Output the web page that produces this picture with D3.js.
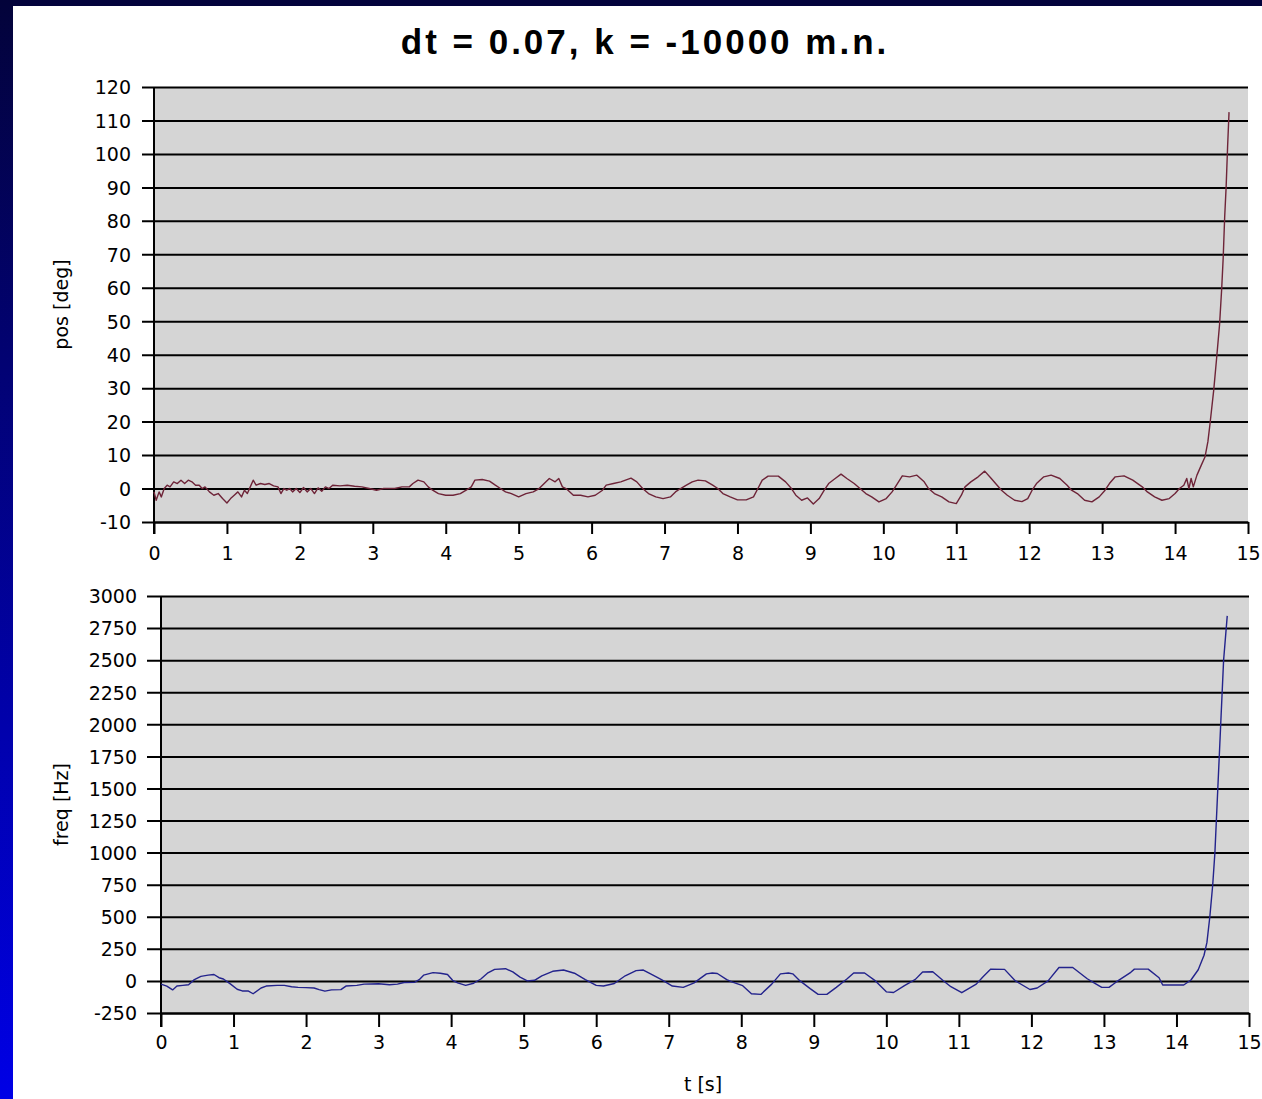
<!DOCTYPE html>
<html>
<head>
<meta charset="utf-8">
<script src="https://cdn.jsdelivr.net/npm/d3@7"></script>
<style>
  html, body { margin: 0; padding: 0; background: #fff; }
  svg { display: block; }
  .tick-label { font-family: "DejaVu Sans", sans-serif; font-size: 19px; fill: #000; }
  .axis-title { font-family: "DejaVu Sans", sans-serif; font-size: 19px; fill: #000; }
</style>
</head>
<body>
<script>
// Simulation output: pendulum position and motor frequency, dt = 0.07
const titleText = "dt = 0.07, k = -10000 m.n.";

const timeTicks = [0,1,2,3,4,5,6,7,8,9,10,11,12,13,14,15];
const posTicks = [-10,0,10,20,30,40,50,60,70,80,90,100,110,120];
const freqTicks = [-250,0,250,500,750,1000,1250,1500,1750,2000,2250,2500,2750,3000];

// position [deg] vs time [s]
const posT = [0,0.03,0.07,0.1,0.14,0.18,0.22,0.27,0.32,0.37,0.42,0.47,0.52,0.57,0.62,0.66,0.7,0.76,0.82,0.88,0.94,1.0,1.05,1.1,1.15,1.2,1.24,1.28,1.32,1.36,1.4,1.46,1.52,1.58,1.64,1.7,1.74,1.78,1.82,1.86,1.9,1.95,2.0,2.05,2.1,2.15,2.2,2.25,2.3,2.35,2.4,2.45,2.55,2.65,2.75,2.85,2.95,3.05,3.15,3.3,3.4,3.5,3.55,3.62,3.7,3.76,3.82,3.9,4.0,4.1,4.2,4.28,4.35,4.4,4.5,4.6,4.68,4.75,4.82,4.9,5.0,5.1,5.2,5.28,5.35,5.42,5.5,5.55,5.6,5.65,5.75,5.85,5.95,6.05,6.15,6.2,6.3,6.4,6.54,6.62,6.7,6.78,6.88,6.98,7.08,7.15,7.22,7.3,7.38,7.46,7.56,7.66,7.73,7.8,7.9,8.0,8.12,8.22,8.28,8.34,8.42,8.56,8.66,8.74,8.8,8.88,8.96,9.04,9.12,9.19,9.25,9.34,9.42,9.5,9.6,9.68,9.76,9.84,9.94,10.04,10.12,10.18,10.26,10.36,10.46,10.56,10.62,10.7,10.8,10.9,11.0,11.07,11.12,11.2,11.3,11.39,11.48,11.56,11.62,11.7,11.8,11.9,11.98,12.04,12.1,12.2,12.3,12.42,12.52,12.58,12.66,12.76,12.86,12.96,13.04,13.1,13.18,13.3,13.42,13.55,13.62,13.72,13.82,13.92,14.0,14.06,14.12,14.16,14.19,14.22,14.25,14.3,14.36,14.41,14.45,14.48,14.53,14.57,14.61,14.64,14.66,14.68,14.7,14.72,14.74];
const posDeg = [-1,-3.5,-1,-2.5,0,1,0.5,2,1.5,2.5,1.5,2.5,2,1,1,0,0.5,-1,-2,-1.5,-3,-4.3,-3,-2,-1,-2.5,-0.5,-1.5,0.5,2.5,1,1.5,1.2,1.5,0.8,0.5,-1.5,0,-0.5,0,-1,0,-1.2,0.3,-1,0,-1.5,0.2,-0.8,0.5,0,1,0.8,1,0.7,0.5,0,-0.5,0,0,0.5,0.5,1.5,2.5,2,0.5,-0.5,-1.5,-2,-2,-1.5,-0.5,0.5,2.5,2.7,2.2,1,0,-1,-1.5,-2.5,-1.5,-1,0,1.5,3,2,3,0.5,0,-2,-2,-2.5,-2,-0.5,1,1.5,2,3.1,2,0,-1.5,-2.5,-3,-2.5,-1,0,1,2,2.5,2.3,1,0,-1.5,-2.5,-3.4,-3.4,-2.5,0,2.5,3.7,3.7,2,0,-2,-3.5,-2.8,-4.6,-3,-0.5,1.5,3,4.3,3,1.5,0,-1.5,-2.5,-4,-3,-1,1,3.8,3.5,4,2,0,-1.5,-2.5,-4,-4.5,-2,0.5,2,3.5,5.2,3,1,-0.5,-2,-3.5,-3.9,-3,-0.5,1.5,3.5,4,3,1,-0.5,-1.5,-3.5,-4,-2.5,-0.5,1.5,3.5,3.8,2.5,0.5,-1,-2.5,-3.5,-3,-1.5,0,1,3,0,3,0.5,4,7,9.4,14,19.5,29.4,39,49,60,69,81,90,102,112.5];

// frequency [Hz] vs time [s]
const freqT = [0,0.08,0.16,0.22,0.3,0.38,0.46,0.55,0.65,0.73,0.8,0.86,0.96,1.05,1.12,1.2,1.27,1.38,1.45,1.6,1.7,1.8,1.89,2.0,2.11,2.18,2.26,2.35,2.48,2.55,2.7,2.8,3.0,3.15,3.26,3.35,3.5,3.56,3.62,3.75,3.85,3.95,4.02,4.09,4.2,4.31,4.41,4.5,4.6,4.75,4.85,4.95,5.05,5.15,5.25,5.4,5.55,5.7,5.85,6.0,6.1,6.25,6.4,6.55,6.65,6.75,6.9,7.05,7.2,7.35,7.52,7.6,7.67,7.8,7.87,8.02,8.14,8.27,8.42,8.54,8.65,8.71,8.81,8.95,9.06,9.18,9.31,9.46,9.55,9.7,9.85,10.0,10.1,10.25,10.4,10.5,10.64,10.79,10.89,11.04,11.24,11.34,11.44,11.63,11.78,11.98,12.08,12.23,12.38,12.57,12.77,12.87,12.97,13.07,13.17,13.37,13.42,13.61,13.76,13.81,14.1,14.2,14.3,14.38,14.42,14.46,14.5,14.53,14.57,14.61,14.65,14.7];
const freqHz = [-25,-40,-70,-40,-35,-30,10,35,45,50,25,15,-25,-65,-78,-78,-100,-55,-40,-35,-35,-45,-50,-52,-55,-68,-80,-70,-68,-40,-35,-25,-22,-30,-25,-12,-10,10,45,65,60,50,5,-15,-35,-18,15,60,90,95,70,30,0,5,40,75,85,60,10,-35,-40,-20,40,80,85,55,10,-40,-50,-15,55,62,58,10,-8,-37,-100,-105,-25,55,62,55,0,-60,-105,-105,-50,17,62,62,0,-85,-90,-37,12,70,72,0,-45,-92,-25,37,92,90,0,-67,-55,0,105,105,17,-17,-50,-50,-8,67,92,92,25,-32,-32,7,87,200,300,500,750,1000,1500,2000,2500,2845];

const W = 1262, H = 1099;
const svg = d3.select("body").append("svg").attr("width", W).attr("height", H);

// slide frame: dark band on top, blue gradient on the left edge
const defs = svg.append("defs");
const grad = defs.append("linearGradient").attr("id", "edge").attr("x1", 0).attr("y1", 0).attr("x2", 0).attr("y2", 1);
grad.append("stop").attr("offset", "0%").attr("stop-color", "#03033a");
grad.append("stop").attr("offset", "100%").attr("stop-color", "#0000e6");
svg.append("rect").attr("x", 0).attr("y", 0).attr("width", W).attr("height", 6).attr("fill", "#03033c");
svg.append("rect").attr("x", 0).attr("y", 0).attr("width", 13).attr("height", H).attr("fill", "url(#edge)");

svg.append("text")
  .attr("x", 645).attr("y", 54)
  .attr("text-anchor", "middle")
  .style("font-family", "'Liberation Sans', Arial, sans-serif")
  .style("font-weight", "bold")
  .style("font-size", "35px")
  .style("letter-spacing", "3px")
  .text(titleText);

// plain hyphen-minus for negative labels
const fmt = d => String(d);

function panel(cfg) {
  const x = d3.scaleLinear().domain([0, 15]).range([cfg.left, cfg.right]);
  const y = d3.scaleLinear().domain(cfg.yDomain).range([cfg.bottom, cfg.top]);
  const g = svg.append("g");

  g.append("rect")
    .attr("x", cfg.left).attr("y", cfg.top)
    .attr("width", cfg.right - cfg.left).attr("height", cfg.bottom - cfg.top)
    .attr("fill", "#d5d5d5");

  // horizontal gridlines double as the y-axis ticks
  const yAxis = d3.axisLeft(y).tickValues(cfg.yTicks)
    .tickSize(-(cfg.right - cfg.left + cfg.tickLen)).tickSizeOuter(0).tickPadding(0)
    .tickFormat(fmt);
  const ya = g.append("g").attr("transform", `translate(${cfg.left - cfg.tickLen},0)`).call(yAxis);
  ya.select(".domain").remove();
  ya.selectAll(".tick line").attr("x1", 0).attr("x2", cfg.right - cfg.left + cfg.tickLen)
    .attr("stroke", "#000").attr("stroke-width", 2);
  ya.selectAll(".tick text").attr("class", "tick-label").attr("x", cfg.labelX - (cfg.left - cfg.tickLen))
    .attr("dy", "0.36em").attr("text-anchor", "end");

  // left axis line
  g.append("line").attr("x1", cfg.left).attr("x2", cfg.left)
    .attr("y1", cfg.top).attr("y2", cfg.bottom + cfg.tickLen)
    .attr("stroke", "#000").attr("stroke-width", 2);

  const xAxis = d3.axisBottom(x).tickValues(timeTicks).tickSize(cfg.tickLen).tickSizeOuter(0)
    .tickPadding(cfg.xPad).tickFormat(fmt);
  const xa = g.append("g").attr("transform", `translate(0,${cfg.bottom})`).call(xAxis);
  xa.select(".domain").attr("stroke", "#000").attr("stroke-width", 2);
  xa.selectAll(".tick line").attr("stroke", "#000").attr("stroke-width", 2);
  xa.selectAll(".tick text").attr("class", "tick-label");

  const line = d3.line().x((d, i) => x(cfg.tv[i])).y(d => y(d));
  g.append("path").datum(cfg.values)
    .attr("d", line)
    .attr("fill", "none")
    .attr("stroke", cfg.color)
    .attr("stroke-width", 1.4)
    .attr("stroke-linejoin", "round");

  g.append("text").attr("class", "axis-title")
    .attr("transform", `translate(${cfg.titleX},${(cfg.top + cfg.bottom) / 2}) rotate(-90)`)
    .attr("text-anchor", "middle")
    .text(cfg.title);
}

panel({
  left: 154, right: 1248, top: 87, bottom: 522,
  yDomain: [-10, 120], yTicks: posTicks, tickLen: 12, labelX: 131, xPad: 13,
  tv: posT, values: posDeg, color: "#6e2438",
  title: "pos [deg]", titleX: 68
});

panel({
  left: 161, right: 1249, top: 596, bottom: 1013,
  yDomain: [-250, 3000], yTicks: freqTicks, tickLen: 14, labelX: 137, xPad: 9,
  tv: freqT, values: freqHz, color: "#23238c",
  title: "freq [Hz]", titleX: 68
});

svg.append("text").attr("class", "axis-title")
  .attr("x", 703).attr("y", 1091)
  .attr("text-anchor", "middle")
  .text("t [s]");
</script>
</body>
</html>
